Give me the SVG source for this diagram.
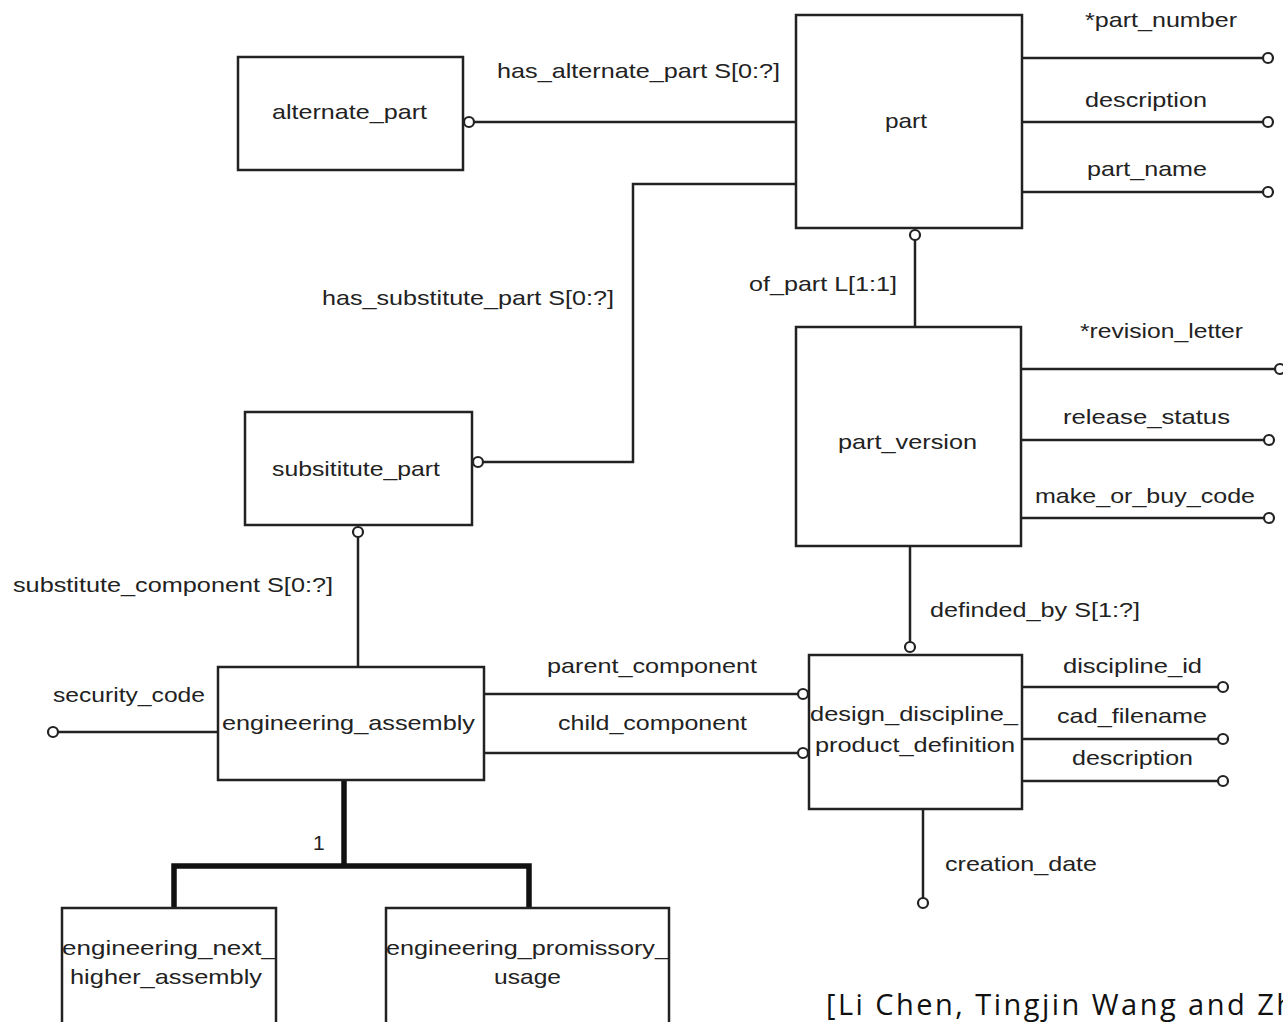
<svg xmlns="http://www.w3.org/2000/svg" width="1283" height="1022" viewBox="0 0 1283 1022">
  <style>
    .box { fill: #fff; stroke: #222; stroke-width: 2.5; }
    .ln { fill: none; stroke: #222; stroke-width: 2.5; }
    .thick { fill: none; stroke: #111; stroke-width: 5.5; }
    .end { fill: #fff; stroke: #222; stroke-width: 2.2; }
    text { font-family: "Liberation Sans", Arial, sans-serif; font-size: 21px; fill: #222; }
    .cite { font-family: "Open Sans", "Noto Sans", sans-serif; font-size: 29px; fill: #111; }
  </style>
  <rect width="1283" height="1022" fill="#fff"/>

  <!-- relationship and attribute lines -->
  <g id="connectors">
    <!-- part attributes -->
    <line class="ln" x1="1022" y1="58" x2="1263" y2="58"/>
    <line class="ln" x1="1022" y1="122" x2="1263" y2="122"/>
    <line class="ln" x1="1022" y1="192" x2="1263" y2="192"/>
    <circle class="end" cx="1268" cy="58" r="5"/>
    <circle class="end" cx="1268" cy="122" r="5"/>
    <circle class="end" cx="1268" cy="192" r="5"/>
    <!-- has_alternate_part -->
    <line class="ln" x1="474" y1="122" x2="796" y2="122"/>
    <circle class="end" cx="469" cy="122" r="5"/>
    <!-- has_substitute_part -->
    <polyline class="ln" points="796,184 633,184 633,462 483,462"/>
    <circle class="end" cx="478" cy="462" r="5"/>
    <!-- of_part -->
    <line class="ln" x1="915" y1="240" x2="915" y2="327"/>
    <circle class="end" cx="915" cy="235" r="5"/>
    <!-- part_version attributes -->
    <line class="ln" x1="1021" y1="369" x2="1275" y2="369"/>
    <line class="ln" x1="1021" y1="440" x2="1264" y2="440"/>
    <line class="ln" x1="1021" y1="518" x2="1264" y2="518"/>
    <circle class="end" cx="1280" cy="369" r="5"/>
    <circle class="end" cx="1269" cy="440" r="5"/>
    <circle class="end" cx="1269" cy="518" r="5"/>
    <!-- definded_by -->
    <line class="ln" x1="910" y1="546" x2="910" y2="642"/>
    <circle class="end" cx="910" cy="647" r="5"/>
    <!-- design_discipline_product_definition attributes -->
    <line class="ln" x1="1022" y1="687" x2="1218" y2="687"/>
    <line class="ln" x1="1022" y1="739" x2="1218" y2="739"/>
    <line class="ln" x1="1022" y1="781" x2="1218" y2="781"/>
    <circle class="end" cx="1223" cy="687" r="5"/>
    <circle class="end" cx="1223" cy="739" r="5"/>
    <circle class="end" cx="1223" cy="781" r="5"/>
    <line class="ln" x1="923" y1="809" x2="923" y2="898"/>
    <circle class="end" cx="923" cy="903" r="5"/>
    <!-- substitute_component -->
    <line class="ln" x1="358" y1="537" x2="358" y2="667"/>
    <circle class="end" cx="358" cy="532" r="5"/>
    <!-- security_code -->
    <line class="ln" x1="58" y1="732" x2="218" y2="732"/>
    <circle class="end" cx="53" cy="732" r="5"/>
    <!-- parent / child component -->
    <line class="ln" x1="484" y1="694" x2="798" y2="694"/>
    <line class="ln" x1="484" y1="753" x2="798" y2="753"/>
    <circle class="end" cx="803" cy="694" r="5"/>
    <circle class="end" cx="803" cy="753" r="5"/>
    <!-- subtype tree -->
    <polyline class="thick" points="344,780 344,866"/>
    <polyline class="thick" points="174,908 174,866 529,866 529,908"/>
  </g>

  <!-- connector labels -->
  <g id="labels">
    <text x="497" y="78" textLength="283" lengthAdjust="spacingAndGlyphs">has_alternate_part S[0:?]</text>
    <text x="322" y="305" textLength="292" lengthAdjust="spacingAndGlyphs">has_substitute_part S[0:?]</text>
    <text x="749" y="291" textLength="148" lengthAdjust="spacingAndGlyphs">of_part L[1:1]</text>
    <text x="1085" y="27" textLength="152" lengthAdjust="spacingAndGlyphs">*part_number</text>
    <text x="1085" y="107" textLength="122" lengthAdjust="spacingAndGlyphs">description</text>
    <text x="1087" y="176" textLength="120" lengthAdjust="spacingAndGlyphs">part_name</text>
    <text x="1080" y="338" textLength="163" lengthAdjust="spacingAndGlyphs">*revision_letter</text>
    <text x="1063" y="424" textLength="167" lengthAdjust="spacingAndGlyphs">release_status</text>
    <text x="1035" y="503" textLength="220" lengthAdjust="spacingAndGlyphs">make_or_buy_code</text>
    <text x="930" y="617" textLength="210" lengthAdjust="spacingAndGlyphs">definded_by S[1:?]</text>
    <text x="1063" y="673" textLength="139" lengthAdjust="spacingAndGlyphs">discipline_id</text>
    <text x="1057" y="723" textLength="150" lengthAdjust="spacingAndGlyphs">cad_filename</text>
    <text x="1072" y="765" textLength="121" lengthAdjust="spacingAndGlyphs">description</text>
    <text x="945" y="871" textLength="152" lengthAdjust="spacingAndGlyphs">creation_date</text>
    <text x="13" y="592" textLength="320" lengthAdjust="spacingAndGlyphs">substitute_component S[0:?]</text>
    <text x="53" y="702" textLength="152" lengthAdjust="spacingAndGlyphs">security_code</text>
    <text x="547" y="673" textLength="210" lengthAdjust="spacingAndGlyphs">parent_component</text>
    <text x="558" y="730" textLength="189" lengthAdjust="spacingAndGlyphs">child_component</text>
    <text x="313" y="850">1</text>
  </g>

  <g id="part">
    <rect class="box" x="796" y="15" width="226" height="213"/>
    <text x="885" y="128" textLength="42" lengthAdjust="spacingAndGlyphs">part</text>
  </g>

  <g id="alternate_part">
    <rect class="box" x="238" y="57" width="225" height="113"/>
    <text x="272" y="119" textLength="155" lengthAdjust="spacingAndGlyphs">alternate_part</text>
  </g>

  <g id="part_version">
    <rect class="box" x="796" y="327" width="225" height="219"/>
    <text x="838" y="449" textLength="139" lengthAdjust="spacingAndGlyphs">part_version</text>
  </g>

  <g id="subsititute_part">
    <rect class="box" x="245" y="412" width="227" height="113"/>
    <text x="272" y="476" textLength="168" lengthAdjust="spacingAndGlyphs">subsititute_part</text>
  </g>

  <g id="engineering_assembly">
    <rect class="box" x="218" y="667" width="266" height="113"/>
    <text x="222" y="730" textLength="253" lengthAdjust="spacingAndGlyphs">engineering_assembly</text>
  </g>

  <g id="design_discipline_product_definition">
    <rect class="box" x="809" y="655" width="213" height="154"/>
    <text x="810" y="721" textLength="208" lengthAdjust="spacingAndGlyphs">design_discipline_</text>
    <text x="815" y="752" textLength="200" lengthAdjust="spacingAndGlyphs">product_definition</text>
  </g>

  <g id="engineering_next_higher_assembly">
    <rect class="box" x="62" y="908" width="214" height="130"/>
    <text x="62" y="955" textLength="214" lengthAdjust="spacingAndGlyphs">engineering_next_</text>
    <text x="70" y="984" textLength="192" lengthAdjust="spacingAndGlyphs">higher_assembly</text>
  </g>

  <g id="engineering_promissory_usage">
    <rect class="box" x="386" y="908" width="283" height="130"/>
    <text x="386" y="955" textLength="283" lengthAdjust="spacingAndGlyphs">engineering_promissory_</text>
    <text x="494" y="984" textLength="67" lengthAdjust="spacingAndGlyphs">usage</text>
  </g>

  <text class="cite" x="826" y="1015" textLength="468" lengthAdjust="spacing">[Li Chen, Tingjin Wang and Zh</text>
</svg>
